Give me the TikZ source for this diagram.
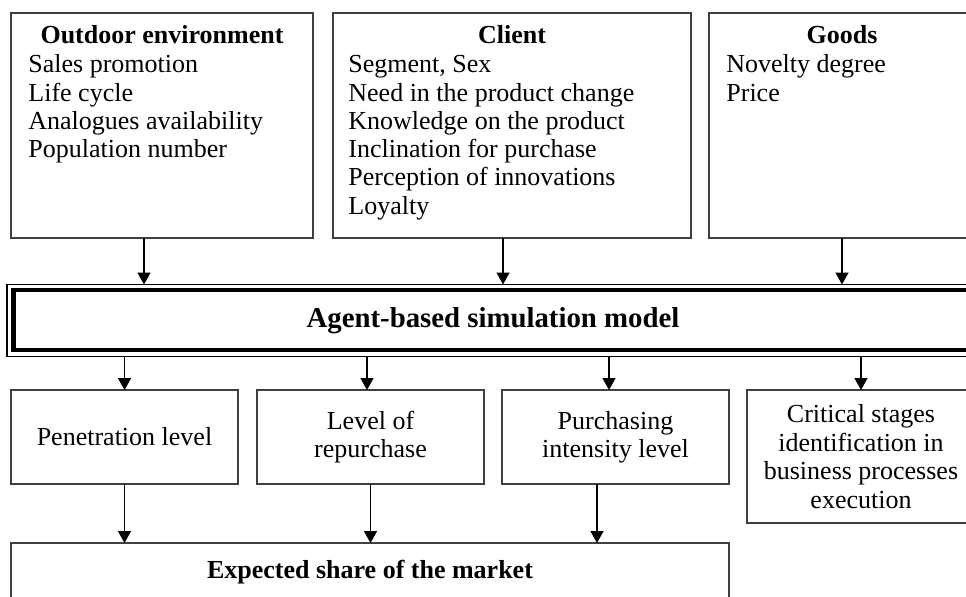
\documentclass[tikz,border=0pt]{standalone}
\usepackage{fontspec}
\setmainfont{Liberation Serif}
\usetikzlibrary{arrows.meta,calc}
\newcommand\bodyfnt{\fontsize{13pt}{14.2pt}\selectfont}
\newcommand\modelfnt{\fontsize{14.4pt}{16pt}\selectfont\bfseries}
\begin{document}
\begin{tikzpicture}[x=0.5pt,y=-0.5pt,
  box/.style={draw=black!75, line width=0.55pt, inner sep=0pt, outer sep=0pt, font=\bodyfnt, align=center},
  ttl/.style={inner sep=0pt, anchor=base, font=\bodyfnt\bfseries},
  itm/.style={inner sep=0pt, anchor=base west, font=\bodyfnt},
  arr/.style={draw=black, line width=0.75pt, -{Triangle[length=6pt,width=6.5pt]}}]
\useasboundingbox (0,0) rectangle (966,596);
\clip (0,0) rectangle (966,596);
% top boxes
\node[box, minimum width=151pt, minimum height=112.5pt] (out) at (162,125.5) {};
\node[box, minimum width=179pt, minimum height=112.5pt] (cli) at (512,125.5) {};
\node[box, minimum width=133pt, minimum height=112.5pt] (goo) at (842,125.5) {};
\node[ttl] (outt) at ($(out.north)+(0,30)$) {Outdoor environment};
\node[ttl] (clit) at ($(cli.north)+(0,30)$) {Client};
\node[ttl] (goot) at ($(goo.north)+(0,30)$) {Goods};
\foreach \t [count=\i] in {Sales promotion, Life cycle, Analogues availability, Population number}
  \node[itm] (o\i) at ($(out.north west)+(17,31.4+28.3*\i)$) {\t};
\foreach \t [count=\i] in {{Segment, Sex}, Need in the product change, Knowledge on the product, Inclination for purchase, Perception of innovations, Loyalty}
  \node[itm] (c\i) at ($(cli.north west)+(15,31.4+28.3*\i)$) {\t};
\foreach \t [count=\i] in {Novelty degree, Price}
  \node[itm] (g\i) at ($(goo.north west)+(17,31.4+28.3*\i)$) {\t};
% model box
\node[draw=black, line width=0.75pt, inner sep=0pt, outer sep=0pt, minimum width=486pt, minimum height=36pt, font=\modelfnt] (model) at (493,320.5) {Agent-based simulation model};
\draw[line width=2.4pt] ([shift={(6.5,5.5)}]model.north west) rectangle ([shift={(-6.5,-6.5)}]model.south east);
% lower boxes
\node[box, minimum width=113.5pt, minimum height=47pt] (pen) at (124.5,437) {Penetration level};
\node[box, minimum width=113.5pt, minimum height=47pt] (rep) at (370.5,437) {Level of\\repurchase};
\node[box, minimum width=113.5pt, minimum height=47pt] (pur) at (615.5,437) {Purchasing\\intensity level};
\node[box, minimum width=114pt, minimum height=66.5pt] (crit) at (861,456.5) {Critical stages\\identification in\\business processes\\execution};
\node[box, minimum width=359pt, minimum height=29pt, font=\bodyfnt\bfseries] (exp) at (370,572) {Expected share of the market};
% arrows top
\coordinate (a1) at ([xshift=-9pt]out.south);
\coordinate (a2) at ([xshift=-4.5pt]cli.south);
\coordinate (a3) at (goo.south);
\foreach \a in {a1,a2,a3} \draw[arr] (\a) -- (\a |- model.north);
% arrows from model
\coordinate (b1) at (pen.north);
\coordinate (b2) at ([xshift=-1.75pt]rep.north);
\coordinate (b3) at ([xshift=-3.25pt]pur.north);
\coordinate (b4) at (crit.north);
\foreach \b in {b1,b2,b3,b4} \draw[arr] (\b |- model.south) -- (\b);
% arrows to expected
\coordinate (d1) at (pen.south);
\coordinate (d2) at (rep.south);
\coordinate (d3) at ([xshift=-9.25pt]pur.south);
\foreach \d in {d1,d2,d3} \draw[arr] (\d) -- (\d |- exp.north);
\end{tikzpicture}
\end{document}
